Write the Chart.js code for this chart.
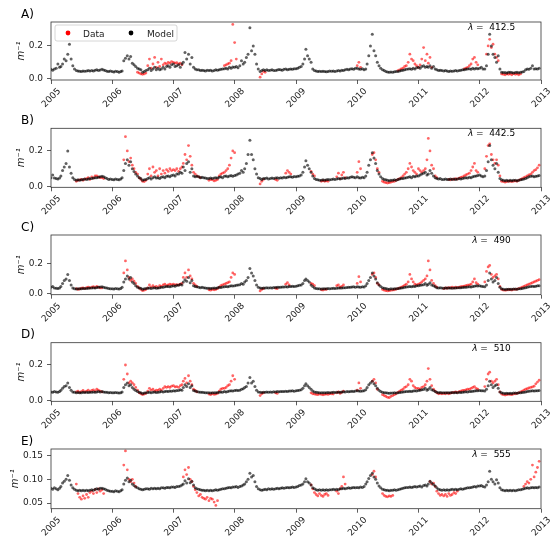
<!DOCTYPE html>
<html>
<head>
<meta charset="utf-8">
<script src="https://cdn.jsdelivr.net/npm/chart.js@4.4.1/dist/chart.umd.min.js"></script>
<style>
  html, body { margin: 0; padding: 0; background: #fff; }
  #wrap { position: relative; width: 552px; height: 548px; }
  #wrap canvas { position: absolute; left: 0; }
</style>
</head>
<body>
<div id="wrap"></div>
<script>
// sample grid: 1st, 11th and 21st of every month, 2005-2012
const years = [2005, 2006, 2007, 2008, 2009, 2010, 2011, 2012];
const sampleDays = [1, 11, 21];
const yearTicks = [2005, 2006, 2007, 2008, 2009, 2010, 2011, 2012, 2013];
const ticksLow = [0, 0.2];
const ticksE = [0.05, 0.10, 0.15];
const _ = null; // no observation

// A) lambda 412.5
const modelA = [
  .058,.052,.060, .065,.090,.070, .075,.090,.120, .110,.150,.210, .120,.080,.060, .050,.048,.046, .045,.048,.046, .047,.050,.048, .050,.048,.052, .055,.050,.053, .058,.054,.050, .046,.044,.048,
  .045,.042,.046, .044,.040,.045, .048,.110,.125, .140,.120,.135, .095,.085,.075, .065,.060,.055, .040,.045,.050, .055,.065,.050, .060,.070,.055, .065,.055,.060, .070,.060,.075, .080,.070,.085,
  .090,.075,.080, .085,.070,.090, .100,.160,.120, .150,.090,.130, .070,.060,.055, .055,.050,.052, .050,.048,.052, .050,.052,.048, .050,.055,.052, .055,.058,.060, .062,.065,.060, .070,.065,.072,
  .070,.075,.068, .080,.110,.090, .100,.130,.150, .310,.170,.200, .150,.090,.060, .045,.050,.055, .050,.055,.050, .052,.055,.050, .050,.054,.056, .055,.052,.058, .060,.055,.058, .060,.058,.062,
  .062,.065,.070, .075,.090,.120, .180,.140,.120, .100,.060,.050, .048,.045,.046, .044,.046,.045, .043,.045,.047, .046,.048,.045, .047,.050,.048, .052,.050,.055, .058,.055,.060, .062,.058,.065,
  .065,.060,.058, .062,.055,.060, .090,.140,.200, .270,.170,.140, .100,.080,.065, .055,.050,.045, .042,.040,.042, .040,.043,.045, .045,.048,.050, .052,.055,.058, .060,.062,.058, .065,.060,.068,
  .070,.065,.075, .080,.070,.075, .070,.080,.065, .075,.060,.055, .050,.052,.050, .048,.050,.047, .045,.048,.046, .047,.050,.048, .050,.052,.055, .055,.058,.060, .062,.058,.065, .060,.065,.062,
  .065,.070,.060, .060,.080,.150, .270,.200,.150, .130,.100,.140, .060,.040,.038, .038,.035,.040, .040,.038,.036, .038,.040,.037, .040,.042,.045, .055,.060,.058, .065,.080,.060, .062,.060,.065
];
const dataA = [
  _,_,_, _,_,_, _,_,_, _,_,_, _,_,_, _,_,_, _,_,_, _,_,_, _,_,_, _,_,_, _,_,_, _,_,_,
  _,_,_, _,_,_, _,_,_, _,_,_, _,_,_, .040,.035,.030, .028,.030,.035, .080,.120,.065, .090,.130,.070, .100,.075,.120, .085,.095,.090, .100,.095,.105,
  .100,.095,.098, .090,.095,.085, _,_,_, _,_,_, _,_,_, _,_,_, _,_,_, _,_,_, _,_,_, _,_,_, .080,.085,.090, .095,.110,.330,
  .220,.120,_, _,_,_, _,_,_, _,_,_, _,_,_, .010,.030,.045, .040,_,_, _,_,_, _,_,_, _,_,_, _,_,_, _,_,_,
  _,_,_, _,_,_, _,_,_, _,_,_, _,_,_, _,_,_, _,_,_, _,_,_, _,_,_, _,_,_, _,_,_, _,_,_,
  .080,.100,.070, _,_,_, _,_,_, _,_,_, _,_,_, _,_,_, _,_,_, _,_,_, .050,.055,.060, .065,.075,.080, .100,.150,.120, .110,.090,.080,
  .070,.085,.120, .190,.110,.150, .095,.130,.070, _,_,_, _,_,_, _,_,_, _,_,_, _,_,_, _,_,_, .060,.065,.070, .080,.090,.120, .130,.100,.085,
  _,_,_, _,.150,.200, .240,.190,.210, .150,.130,.110, _,.030,.028, .025,.030,.028, .030,.025,.032, .028,.030,.025, .030,_,_, _,_,_, _,_,_, _,_,_
];

// B) lambda 442.5
const modelB = [
  .050,.065,.048, .045,.042,.048, .060,.090,.110, .130,.200,.110, .075,.050,.040, .035,.038,.036, .038,.040,.042, .040,.043,.045, .045,.048,.050, .050,.052,.055, .058,.055,.050, .045,.040,.042,
  .040,.038,.042, .040,.038,.042, .050,.090,.130, .150,.120,.140, .100,.085,.070, .060,.050,.045, .035,.038,.040, .045,.050,.042, .050,.055,.048, .050,.045,.052, .055,.050,.058, .060,.055,.062,
  .065,.060,.070, .070,.080,.075, .110,.090,.130, .140,.080,.100, .060,.055,.058, .055,.050,.052, .050,.048,.045, .045,.048,.046, .048,.050,.048, .052,.055,.050, .058,.060,.055, .060,.062,.058,
  .062,.065,.070, .075,.090,.080, .100,.130,.180, .260,.180,.150, .100,.070,.050, .045,.040,.045, .045,.048,.042, .045,.048,.046, .048,.050,.047, .050,.048,.052, .050,.052,.055, .055,.053,.056,
  .055,.058,.060, .065,.080,.110, .145,.120,.100, .080,.060,.045, .040,.038,.036, .035,.038,.036, .038,.040,.038, .040,.042,.040, .042,.045,.043, .045,.048,.046, .050,.048,.052, .055,.052,.050,
  .055,.050,.048, .052,.050,.060, .080,.120,.150, .190,.160,.130, .090,.070,.055, .045,.040,.038, .035,.033,.035, .035,.038,.036, .040,.042,.045, .045,.048,.050, .052,.055,.050, .058,.055,.060,
  .060,.065,.070, .075,.080,.065, .070,.090,.075, .060,.050,.045, .042,.045,.040, .040,.042,.040, .040,.042,.040, .042,.040,.043, .045,.043,.045, .048,.050,.048, .052,.050,.055, .058,.060,.062,
  .065,.060,.055, .060,.090,.140, .230,.150,.120, .100,.130,.080, .045,.038,.035, .033,.035,.032, .035,.033,.035, .035,.033,.036, .038,.040,.042, .045,.050,.055, .058,.060,.055, .058,.060,.062
];
const dataB = [
  _,_,_, _,_,_, _,_,_, _,_,_, _,_,_, .030,.035,.038, .040,.035,.042, .045,.050,.040, .055,.048,.060, .060,.055,.050, .050,.045,_, _,_,_,
  _,_,_, _,_,_, _,.150,.280, .200,.140,.160, .120,.100,.080, .070,.050,.040, .030,.028,.035, .070,.100,.060, .110,.080,.090, .060,.100,.070, .090,.075,.095, .085,.100,.090,
  .095,.090,.100, .085,.100,.110, .130,.180,.150, .230,.170,.120, .080,.070,.060, .055,.050,_, _,_,_, .035,.040,.038, .032,.035,.040, .060,.070,.075, .080,.090,.100, .120,.160,.200,
  .190,_,_, _,_,_, _,_,_, _,_,_, _,_,_, .015,.030,.040, _,_,_, _,_,_, .040,.035,_, _,_,_, .075,.090,.080, .070,_,_,
  _,_,_, _,_,_, _,_,_, .085,.070,.060, _,_,_, .030,.033,.030, .032,.030,_, _,_,_, .055,.075,.045, .065,.080,.050, _,_,_, _,_,_,
  .080,.140,.100, _,_,_, _,_,_, .180,.190,.150, .100,.080,_, .030,.025,.022, .020,.022,.025, .028,.030,.035, .040,.045,.050, .060,.070,.080, .100,.130,.110, .090,.080,.070,
  .100,.090,.080, .090,.100,.150, .270,.200,.120, .100,.060,.050, _,_,_, _,_,_, .040,.038,.042, .040,.045,.042, .048,.052,.055, .060,.065,.070, .075,.090,.110, .130,.090,.080,
  _,_,_, .100,.170,.230, .240,.180,.150, .130,.150,.120, .060,.030,.028, .025,.028,.030, .030,.028,.030, .032,.030,.035, .040,.045,.050, .055,.060,.065, .070,.080,.090, .095,.105,.120
];

// C) lambda 490
const modelC = [
  .045,.050,.040, .038,.036,.040, .050,.070,.090, .100,.130,.090, .060,.040,.035, .033,.035,.034, .035,.037,.036, .037,.038,.040, .040,.042,.040, .043,.045,.047, .048,.045,.042, .040,.036,.035,
  .035,.033,.036, .034,.033,.036, .045,.080,.100, .120,.100,.110, .080,.070,.055, .045,.040,.038, .032,.034,.036, .038,.040,.036, .040,.042,.038, .040,.042,.045, .045,.048,.050, .050,.048,.052,
  .055,.052,.058, .058,.065,.060, .080,.095,.085, .110,.075,.090, .055,.050,.048, .045,.042,.044, .042,.040,.038, .038,.036,.038, .040,.038,.042, .045,.043,.047, .048,.050,.048, .052,.055,.053,
  .055,.058,.060, .062,.070,.065, .080,.090,.110, .170,.140,.120, .090,.060,.045, .040,.038,.040, .040,.042,.040, .042,.040,.043, .043,.045,.044, .045,.047,.046, .048,.047,.050, .050,.052,.050,
  .052,.055,.058, .060,.070,.090, .100,.090,.080, .060,.050,.040, .037,.035,.034, .033,.035,.034, .035,.036,.035, .036,.038,.037, .038,.040,.039, .040,.042,.041, .043,.045,.044, .046,.048,.045,
  .048,.046,.045, .048,.046,.055, .070,.090,.110, .140,.120,.100, .075,.060,.050, .042,.038,.036, .033,.032,.034, .033,.035,.034, .036,.038,.040, .042,.044,.046, .048,.050,.048, .052,.050,.054,
  .055,.058,.060, .062,.070,.058, .065,.075,.060, .055,.048,.042, .040,.042,.040, .038,.040,.039, .039,.040,.038, .040,.039,.041, .042,.041,.043, .045,.044,.046, .048,.047,.050, .052,.055,.053,
  .055,.052,.050, .048,.060,.090, .140,.100,.080, .090,.110,.070, .045,.035,.032, .030,.031,.032, .032,.031,.033, .033,.032,.034, .035,.037,.040, .042,.045,.048, .050,.052,.050, .052,.054,.055
];
const dataC = [
  _,_,_, _,_,_, _,_,_, _,_,_, _,_,_, .035,.030,.033, .038,.040,.036, .042,.045,.040, .045,.048,.042, .050,.045,.040, .040,_,_, _,_,_,
  _,_,_, _,_,_, _,.140,.220, .160,.110,.090, .100,.085,.070, .050,.040,.030, .022,.025,.030, .040,.060,.045, .055,.045,.050, .042,.055,.050, .060,.065,.055, .060,.065,.062,
  .065,.060,.062, .060,.065,.070, .110,.140,.110, .160,.120,.100, .070,.060,.050, _,_,_, _,_,_, .028,.025,.030, .028,.030,.035, .045,.055,.060, .065,.070,.075, .080,.110,.140,
  .130,_,_, _,_,_, _,_,_, _,_,_, _,_,_, .020,.030,.035, _,_,_, _,_,_, .038,.035,_, _,_,_, .065,.075,.060, _,_,_,
  _,_,_, _,_,_, _,_,_, .070,.065,.055, _,_,_, .028,.026,.030, .030,_,_, _,_,_, .055,.060,.045, .050,.060,_, _,_,_, _,_,_,
  .070,.115,.080, _,_,_, _,_,_, .130,.140,.110, .070,.060,_, .030,.025,.022, .020,.022,.024, .026,.028,.032, .035,.040,.045, .050,.058,.065, .080,.130,.100, .080,.065,.060,
  .065,.070,.080, .090,.100,.120, .220,.160,.090, .070,.055,.045, _,_,_, .035,.040,.038, .042,.040,.045, .040,.045,.042, .045,.048,.050, .052,.055,.058, .060,.065,.080, .100,.075,.065,
  _,_,_, .080,.150,.180, .190,.130,.110, .120,.130,.100, .050,.030,.026, .024,.026,.028, .028,.026,.030, .030,.032,.035, .040,.045,.050, .055,.060,.065, .070,.075,.080, .085,.090,.095
];

// D) lambda 510
const modelD = [
  .050,.048,.052, .050,.048,.052, .060,.070,.080, .085,.100,.075, .060,.050,.048, .046,.047,.045, .046,.048,.047, .048,.047,.049, .048,.050,.049, .050,.052,.050, .052,.050,.049, .048,.046,.047,
  .046,.045,.047, .045,.044,.046, .050,.075,.090, .100,.085,.090, .075,.065,.058, .052,.048,.046, .042,.044,.046, .047,.048,.046, .048,.050,.047, .048,.050,.052, .050,.052,.054, .053,.055,.054,
  .056,.055,.058, .058,.062,.060, .075,.090,.080, .095,.075,.085, .058,.055,.052, .050,.048,.049, .047,.046,.045, .045,.044,.046, .046,.045,.047, .048,.050,.049, .052,.050,.053, .055,.057,.055,
  .058,.060,.058, .060,.065,.068, .075,.080,.100, .130,.100,.110, .080,.060,.050, .048,.047,.049, .048,.050,.049, .050,.049,.051, .050,.052,.051, .052,.053,.052, .054,.053,.055, .055,.056,.054,
  .056,.058,.060, .062,.070,.085, .095,.085,.075, .065,.055,.050, .048,.047,.046, .045,.046,.045, .046,.047,.046, .047,.048,.047, .048,.049,.048, .050,.051,.050, .052,.051,.053, .054,.053,.055,
  .056,.055,.054, .055,.056,.062, .075,.090,.100, .110,.095,.085, .070,.060,.052, .048,.046,.045, .044,.043,.044, .044,.045,.044, .046,.047,.048, .050,.051,.052, .053,.054,.053, .055,.056,.055,
  .058,.060,.062, .064,.070,.060, .065,.075,.062, .058,.052,.048, .046,.047,.046, .045,.046,.045, .046,.045,.047, .046,.047,.046, .048,.047,.049, .050,.051,.050, .052,.053,.054, .055,.056,.057,
  .058,.057,.056, .055,.065,.085, .110,.090,.075, .085,.090,.070, .050,.045,.043, .042,.043,.042, .043,.042,.044, .044,.043,.045, .046,.047,.049, .050,.052,.054, .055,.056,.055, .056,.057,.058
];
const dataD = [
  _,_,_, _,_,_, _,_,_, _,_,_, _,_,_, .050,.055,.048, .052,.058,.050, .055,.060,.052, .058,.062,.055, .065,.060,.055, .050,_,_, _,_,_,
  _,_,_, _,_,_, _,.120,.200, .150,.100,.110, .100,.090,.075, .060,.045,.040, .035,.038,.042, .055,.070,.060, .065,.055,.060, .058,.065,.060, .070,.080,.075, .080,.075,.082,
  .085,.078,.080, .075,.085,.090, .110,.125,.100, .140,.110,.090, .065,.058,.050, _,_,_, _,_,_, .038,.035,.040, .036,.038,.042, .055,.065,.070, .070,.075,.085, .090,.110,.140,
  .120,_,_, _,_,_, _,_,_, _,_,_, _,_,_, .030,.040,.045, _,_,_, _,_,_, .045,.042,_, _,_,_, _,_,_, _,_,_,
  _,_,_, _,_,_, _,_,_, .045,.040,.038, .036,.035,.038, .036,.034,.036, .038,.036,.040, .040,.038,_, .045,.050,.042, .048,.055,_, _,_,_, _,_,_,
  .060,.100,.070, _,_,_, _,_,_, .110,.120,.100, .065,_,_, .035,.030,.025, .020,.018,.025, .030,.035,.040, .048,.055,.060, .065,.075,.080, .090,.120,.110, .085,.075,.070,
  .070,.065,.075, .080,.090,.110, .180,.120,.085, .065,.055,.045, .040,.042,.040, .042,.040,.044, .040,.043,.046, .048,.050,.047, .052,.055,.058, .058,.062,.065, .065,.070,.075, .080,.070,.065,
  _,_,_, .080,.120,.150, .160,.110,.100, .110,.120,.090, .050,.038,.035, .033,.035,.037, .036,.035,.038, .040,.042,.045, .050,.055,.060, .065,.068,.072, .075,.078,.082, .095,.105,.115
];

// E) lambda 555
const modelE = [
  .081,.079,.082, .080,.078,.081, .085,.092,.096, .100,.108,.098, .088,.082,.079, .077,.076,.077, .076,.077,.076, .077,.076,.077, .078,.077,.079, .080,.079,.081, .081,.080,.079, .077,.076,.075,
  .075,.074,.076, .075,.074,.076, .078,.090,.098, .103,.095,.098, .090,.087,.084, .082,.080,.079, .078,.079,.080, .080,.079,.081, .080,.081,.080, .081,.080,.082, .082,.081,.083, .083,.082,.084,
  .084,.083,.085, .085,.086,.088, .090,.097,.092, .101,.093,.096, .088,.082,.080, .079,.078,.077, .077,.076,.077, .076,.077,.076, .077,.078,.077, .078,.079,.080, .080,.081,.082, .083,.082,.084,
  .084,.085,.083, .085,.086,.088, .090,.095,.100, .113,.105,.108, .095,.085,.080, .078,.077,.078, .079,.078,.080, .079,.080,.079, .080,.081,.080, .081,.082,.081, .082,.083,.082, .083,.084,.083,
  .084,.085,.087, .088,.090,.095, .101,.095,.092, .088,.082,.080, .078,.077,.078, .077,.078,.077, .078,.077,.078, .078,.079,.078, .079,.078,.080, .080,.081,.080, .081,.082,.081, .082,.083,.082,
  .083,.082,.084, .083,.085,.090, .095,.102,.108, .113,.105,.100, .092,.086,.082, .079,.078,.077, .077,.076,.077, .077,.078,.077, .078,.079,.080, .081,.082,.083, .083,.084,.083, .084,.085,.084,
  .085,.086,.084, .087,.088,.086, .090,.096,.092, .089,.086,.082, .079,.078,.077, .078,.077,.078, .077,.078,.079, .078,.079,.078, .079,.080,.079, .080,.081,.082, .082,.083,.084, .085,.084,.086,
  .086,.087,.085, .084,.088,.095, .117,.100,.095, .090,.099,.092, .082,.078,.077, .076,.077,.076, .077,.076,.077, .076,.077,.078, .078,.079,.080, .081,.082,.081, .082,.083,.082, .083,.082,.084
];
const dataE = [
  _,_,_, _,_,_, _,_,_, _,_,_, _,_,_, .090,.070,.062, .058,.065,.060, .068,.062,.072, .075,.070,.078, .072,.080,.075, .078,.070,_, _,_,_,
  _,_,_, _,_,_, _,.130,.160, .120,.100,.095, .100,.092,.085, _,_,_, _,_,_, _,_,_, _,_,_, _,_,_, _,_,_, _,_,_,
  _,_,_, _,_,_, .105,.120,.110, .125,.100,.095, .085,.078,.072, .065,.068,.062, .060,.058,.062, .055,.060,.058, .052,.045,.055, _,_,_, _,_,_, _,_,_,
  _,_,_, _,_,_, _,_,_, _,_,_, _,_,_, _,_,_, _,_,_, _,_,_, _,_,_, _,_,_, _,_,_, _,_,_,
  _,_,_, _,_,_, _,_,_, .088,.080,.072, .068,.065,.070, .066,.064,.068, .070,.066,_, _,_,_, .075,.070,.080, .085,.105,.090, _,_,_, _,_,_,
  _,_,_, _,_,_, _,_,_, .110,.117,.105, _,_,_, .070,.066,.064, .063,.065,.064, .066,_,_, _,_,_, _,_,_, _,_,_, _,_,_,
  _,_,_, _,_,_, _,.095,.090, .092,.085,.075, .070,.066,.068, .065,.068,.064, .070,.066,.068, .072,.070,.075, _,_,_, _,_,_, _,_,_, _,_,_,
  _,_,_, _,_,_, _,_,_, _,_,_, _,_,_, _,_,_, _,_,_, _,_,_, _,_,.085, .090,.095,.092, .100,.130,.105, .115,.125,.138
];

const dates = [];
years.forEach(y => {
  for (let m = 0; m < 12; m++) sampleDays.forEach(d => dates.push(Date.UTC(y, m, d)));
});

function toPoints(vals) {
  if (vals.length !== dates.length) console.error('length mismatch', vals.length);
  return vals.map((v, i) => v === null ? null : { x: dates[i], y: v }).filter(Boolean);
}

const panels = [
  { id: 'A', lambda: '412.5', model: modelA, data: dataA, yMin: -0.007, yMax: 0.345, yTicks: ticksLow, dec: 1, top: 0, h: 108, plotTop: 22, plotBottom: 80, titlePad: 15, legend: true },
  { id: 'B', lambda: '442.5', model: modelB, data: dataB, yMin: -0.004, yMax: 0.327, yTicks: ticksLow, dec: 1, top: 108, h: 108, plotTop: 128.3, plotBottom: 187.3, titlePad: 15 },
  { id: 'C', lambda: '490', model: modelC, data: dataC, yMin: -0.005, yMax: 0.393, yTicks: ticksLow, dec: 1, top: 216, h: 108, plotTop: 235, plotBottom: 294.7, titlePad: 15 },
  { id: 'D', lambda: '510', model: modelD, data: dataD, yMin: -0.002, yMax: 0.324, yTicks: ticksLow, dec: 1, top: 324, h: 108, plotTop: 342.7, plotBottom: 401.3, titlePad: 15 },
  { id: 'E', lambda: '555', model: modelE, data: dataE, yMin: 0.038, yMax: 0.164, yTicks: ticksE, dec: 2, top: 432, h: 116, plotTop: 449, plotBottom: 508.7, titlePad: 9 }
];

Chart.defaults.font.family = '"DejaVu Sans", sans-serif';
Chart.defaults.color = '#222';

const FONT = '"DejaVu Sans", sans-serif';

const decorPlugin = {
  id: 'decor',
  afterDraw(chart, args, opts) {
    const p = opts.panel;
    const { ctx, chartArea: { left, top, right, bottom } } = chart;
    ctx.save();
    // axes frame
    ctx.strokeStyle = '#333';
    ctx.lineWidth = 0.8;
    ctx.strokeRect(left, top, right - left, bottom - top);
    // panel letter
    ctx.fillStyle = '#000';
    ctx.font = '12px ' + FONT;
    ctx.textAlign = 'left';
    ctx.textBaseline = 'alphabetic';
    ctx.fillText(p.id + ')', 21, top - 4.5);
    // wavelength note
    ctx.font = 'italic 9px ' + FONT;
    const w1 = ctx.measureText('λ').width;
    ctx.font = '9px ' + FONT;
    const rest = ' =  ' + p.lambda;
    const w2 = ctx.measureText(rest).width;
    const x0 = 491.5 - (w1 + w2) / 2;
    ctx.font = 'italic 9px ' + FONT;
    ctx.fillText('λ', x0, top + 8);
    ctx.font = '9px ' + FONT;
    ctx.fillText(rest, x0 + w1, top + 8);
    // legend box
    if (p.legend) {
      ctx.fillStyle = 'rgba(255,255,255,0.8)';
      ctx.strokeStyle = '#cccccc';
      ctx.lineWidth = 0.8;
      ctx.beginPath();
      ctx.roundRect(55, 25, 122, 16, 2);
      ctx.fill();
      ctx.stroke();
      ctx.fillStyle = 'red';
      ctx.beginPath(); ctx.arc(68, 33, 2.4, 0, Math.PI * 2); ctx.fill();
      ctx.fillStyle = '#000';
      ctx.beginPath(); ctx.arc(131, 33, 2.4, 0, Math.PI * 2); ctx.fill();
      ctx.fillStyle = '#222';
      ctx.font = '9px ' + FONT;
      ctx.fillText('Data', 83, 36.5);
      ctx.fillText('Model', 147, 36.5);
    }
    ctx.restore();
  }
};

const wrap = document.getElementById('wrap');

panels.forEach(p => {
  const canvas = document.createElement('canvas');
  canvas.width = 552;
  canvas.height = p.h;
  canvas.style.top = p.top + 'px';
  canvas.style.width = '552px';
  canvas.style.height = p.h + 'px';
  wrap.appendChild(canvas);

  new Chart(canvas, {
    type: 'scatter',
    data: {
      datasets: [
        {
          label: 'Model',
          data: toPoints(p.model),
          backgroundColor: 'rgba(0,0,0,0.62)',
          pointRadius: 1.5,
          pointBorderWidth: 0,
          order: 0
        },
        {
          label: 'Data',
          data: toPoints(p.data),
          backgroundColor: 'rgba(255,0,0,0.6)',
          pointRadius: 1.4,
          pointBorderWidth: 0,
          order: 1
        }
      ]
    },
    options: {
      responsive: false,
      animation: false,
      devicePixelRatio: 1,
      events: [],
      layout: {
        padding: { top: p.plotTop - p.top, right: 11, left: 0, bottom: 0 }
      },
      plugins: {
        legend: { display: false },
        tooltip: { enabled: false },
        decor: { panel: p }
      },
      scales: {
        x: {
          type: 'linear',
          min: Date.UTC(2005, 0, 1),
          max: Date.UTC(2013, 0, 1),
          afterBuildTicks: s => { s.ticks = yearTicks.map(y => ({ value: Date.UTC(y, 0, 1) })); },
          afterFit: s => { s.height = p.h - (p.plotBottom - p.top); },
          ticks: {
            autoSkip: false,
            minRotation: 45,
            maxRotation: 45,
            labelOffset: 8.5,
            padding: 2,
            font: { size: 9 },
            color: '#222',
            callback: v => String(new Date(v).getUTCFullYear())
          },
          grid: { display: true, drawOnChartArea: false, drawTicks: true, tickLength: 4, color: '#333', lineWidth: 0.8 },
          border: { display: false }
        },
        y: {
          min: p.yMin,
          max: p.yMax,
          afterBuildTicks: s => { s.ticks = p.yTicks.map(v => ({ value: v })); },
          afterFit: s => { s.width = 51; },
          ticks: {
            padding: 4,
            font: { size: 9 },
            color: '#222',
            callback: v => Number(v).toFixed(p.dec)
          },
          grid: { display: true, drawOnChartArea: false, drawTicks: true, tickLength: 4, color: '#333', lineWidth: 0.8 },
          border: { display: false },
          title: {
            display: true,
            text: 'm⁻¹',
            color: '#222',
            font: { size: 10, style: 'italic' },
            padding: { top: p.titlePad, bottom: 0 }
          }
        }
      }
    },
    plugins: [decorPlugin]
  });
});
</script>
</body>
</html>
